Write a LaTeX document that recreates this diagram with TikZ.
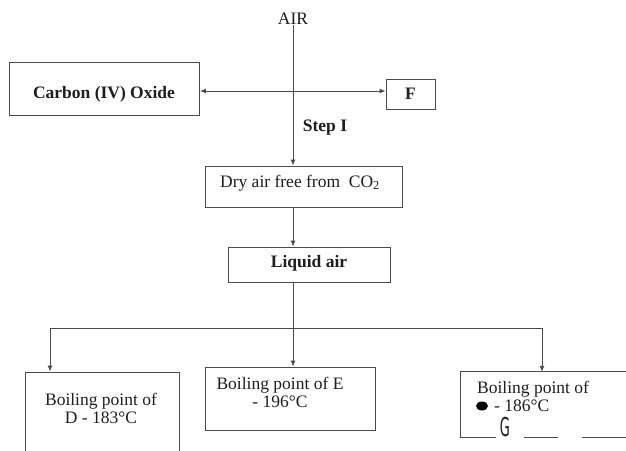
\documentclass[tikz,border=0pt]{standalone}
\usepackage{fontspec}
\usepackage{graphicx}
\setmainfont{Liberation Serif}
\newfontfamily\gfont{DejaVu Sans}
\usetikzlibrary{arrows.meta,shapes.geometric}
\definecolor{linec}{RGB}{75,75,75}
\definecolor{textc}{RGB}{30,30,30}
\tikzset{
  box/.style={draw=linec, line width=0.9pt, inner sep=0pt},
  conn/.style={draw=linec, line width=0.9pt},
  arr/.style={conn, -{Latex[length=6pt,width=5pt]}},
  darr/.style={conn, {Latex[length=6pt,width=5pt]}-{Latex[length=6pt,width=5pt]}},
  txt/.style={text=textc, font=\fontsize{17.5}{18}\selectfont, inner sep=0pt, align=center},
  txtb/.style={text=textc, font=\fontsize{17.5}{18}\selectfont\bfseries, inner sep=0pt, align=center},
}
\begin{document}
\begin{tikzpicture}[x=1pt,y=-1pt]
\clip (0,0) rectangle (626,450);
\fill[white] (0,0) rectangle (626,450);

% top part
\node[txt] (air) at (293,19) {AIR};
\node[box, minimum width=190, minimum height=53] (co2box) at (104.5,88.5) {};
\node[txtb] (co2txt) at (104,94) {Carbon (IV) Oxide};
\node[box, minimum width=49, minimum height=30] (fbox) at (410.5,94) {};
\node[txtb] (ftxt) at (fbox.center) {F};
\node[txtb] (step) at (325,128) {Step I};
\coordinate (cross) at (293,91);

\node[box, minimum width=197, minimum height=41] (drybox) at (303.5,186.5) {};
\node[txt] (drytxt) at (300,183) {Dry air free from~ CO\textsubscript{2}};

\node[box, minimum width=162, minimum height=35] (liqbox) at (309,264.5) {};
\node[txtb] (liqtxt) at (309,263) {Liquid air};

% connectors top
\draw[arr] (air.south) -- (air |- drybox.north);
\draw[darr] (co2box.east |- cross) -- (fbox.west |- cross);
\draw[arr] (air |- drybox.south) -- (air |- liqbox.north);

% branch
\coordinate (branch) at (293,328);
\coordinate (bl) at (50,328);
\coordinate (br) at (542,328);
\draw[conn] (air |- liqbox.south) -- (branch);
\draw[conn] (bl) -- (br);

% bottom boxes
\node[box, minimum width=154, minimum height=108] (lbox) at (102,426) {};
\node[txt] (ltxt) at (101,408.5) {Boiling point of\\D - 183°C};

\node[box, minimum width=170, minimum height=63] (mbox) at (290,398.5) {};
\node[txt] (mtxt) at (280,392) {Boiling point of E\\- 196°C};

\node[minimum width=239, minimum height=65, inner sep=0pt] (rbox) at (580.5,404.5) {};
\draw[conn] (rbox.north east) -- (rbox.north west) -- (rbox.south west) -- ([xshift=35]rbox.south west);
\draw[conn] ([xshift=63]rbox.south west) -- ([xshift=97]rbox.south west);
\draw[conn] ([xshift=121]rbox.south west) -- (rbox.south east);
\node[txt, align=left, anchor=west] (rtxt1) at (477,389) {Boiling point of};
\node[txt, align=left, anchor=west] (rtxt2) at (494,406) {- 186°C};
\node[fill=black, ellipse, minimum width=12, minimum height=9, inner sep=0pt] (blob) at (482,406) {};
\node[inner sep=0pt, text=textc] (gtxt) at (505,427) {\scalebox{0.5}[1]{\gfont\fontsize{26}{26}\selectfont G}};

% branch arrows
\draw[arr] (bl) -- (bl |- lbox.north);
\draw[arr] (branch) -- (branch |- mbox.north);
\draw[arr] (br) -- (br |- rbox.north);
\end{tikzpicture}
\end{document}
